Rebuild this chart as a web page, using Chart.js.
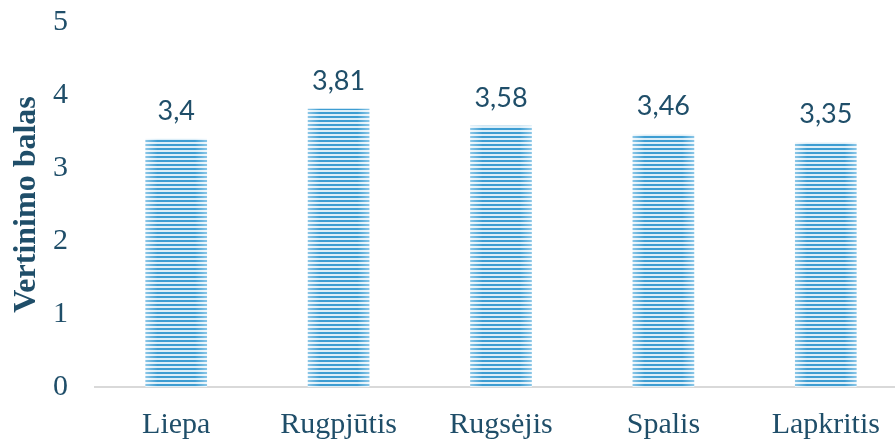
<!DOCTYPE html>
<html>
<head>
<meta charset="utf-8">
<script src="https://cdn.jsdelivr.net/npm/chart.js@4/dist/chart.umd.min.js"></script>
<style>
  html, body { margin: 0; padding: 0; background: #fff; overflow: hidden; }
  #wrap { width: 907px; height: 440px; }
</style>
</head>
<body>
<div id="wrap"><canvas id="graf" width="907" height="440"></canvas></div>
<script>
const menesiai = ['Liepa', 'Rugpjūtis', 'Rugsėjis', 'Spalis', 'Lapkritis'];
const balai = [3.4, 3.81, 3.58, 3.46, 3.35];
const asiesTitulas = 'Vertinimo balas';

const tekstoSpalva = '#1f4e69';
const stulpelioDalis = 0.38;

// striped fill, a bit lighter at the left/right edges of each bar
function juostos(ctx) {
  const chart = ctx.chart;
  const x = chart.scales.x;
  if (!chart.chartArea || !x || ctx.dataIndex === undefined) return '#3a9ad0';
  const plotis = Math.round(x.width / menesiai.length * stulpelioDalis);
  const kaire = x.getPixelForValue(ctx.dataIndex) - plotis / 2;
  const c = document.createElement('canvas');
  c.width = plotis; c.height = 4;
  const g = c.getContext('2d');
  const sviesi = g.createLinearGradient(0, 0, plotis, 0);
  sviesi.addColorStop(0, '#f2f9fd');
  sviesi.addColorStop(0.2, '#dceef8');
  sviesi.addColorStop(0.8, '#dceef8');
  sviesi.addColorStop(1, '#f2f9fd');
  const tamsi = g.createLinearGradient(0, 0, plotis, 0);
  tamsi.addColorStop(0, '#8ec8e8');
  tamsi.addColorStop(0.2, '#3d9dd2');
  tamsi.addColorStop(0.8, '#3d9dd2');
  tamsi.addColorStop(1, '#8ec8e8');
  g.fillStyle = sviesi;
  g.fillRect(0, 0, plotis, 4);
  g.fillStyle = tamsi;
  g.fillRect(0, 0, plotis, 2);
  const p = chart.ctx.createPattern(c, 'repeat');
  p.setTransform(new DOMMatrix().translate(kaire, 0));
  return p;
}

const reiksmes = {
  id: 'reiksmes',
  afterDatasetsDraw(chart) {
    const ctx = chart.ctx;
    const meta = chart.getDatasetMeta(0);
    ctx.save();
    ctx.font = '27px Lato';
    ctx.fillStyle = tekstoSpalva;
    ctx.textAlign = 'center';
    ctx.textBaseline = 'alphabetic';
    meta.data.forEach((bar, i) => {
      ctx.fillText(String(balai[i]).replace('.', ','), bar.x, bar.y - 19);
    });
    ctx.restore();
  }
};

new Chart(document.getElementById('graf'), {
  type: 'bar',
  data: {
    labels: menesiai,
    datasets: [{
      data: balai,
      backgroundColor: juostos,
      borderWidth: 0,
      barPercentage: stulpelioDalis,
      categoryPercentage: 1
    }]
  },
  options: {
    responsive: false,
    animation: false,
    layout: { padding: { top: 22, right: 0, left: 0, bottom: 0 } },
    plugins: { legend: { display: false }, tooltip: { enabled: false } },
    scales: {
      x: {
        grid: { display: false, drawTicks: false },
        border: { display: true, color: '#d9d9d9', width: 2 },
        ticks: {
          color: tekstoSpalva,
          font: { family: 'Liberation Serif', size: 30 },
          padding: 20
        },
        afterFit(s) { s.height = 53; s.paddingTop = 0; s.paddingBottom = 0; }
      },
      y: {
        min: 0,
        max: 5,
        grid: { display: false, drawTicks: false },
        border: { display: false },
        ticks: {
          stepSize: 1,
          color: tekstoSpalva,
          font: { family: 'Liberation Serif', size: 30 },
          padding: 27
        },
        title: {
          display: true,
          text: asiesTitulas,
          color: tekstoSpalva,
          font: { family: 'Liberation Serif', size: 32, weight: 'bold' },
          padding: { top: 8, bottom: 0 }
        },
        afterFit(s) { s.width = 95; s.paddingTop = 0; s.paddingBottom = 0; }
      }
    }
  },
  plugins: [reiksmes]
});
</script>
</body>
</html>
